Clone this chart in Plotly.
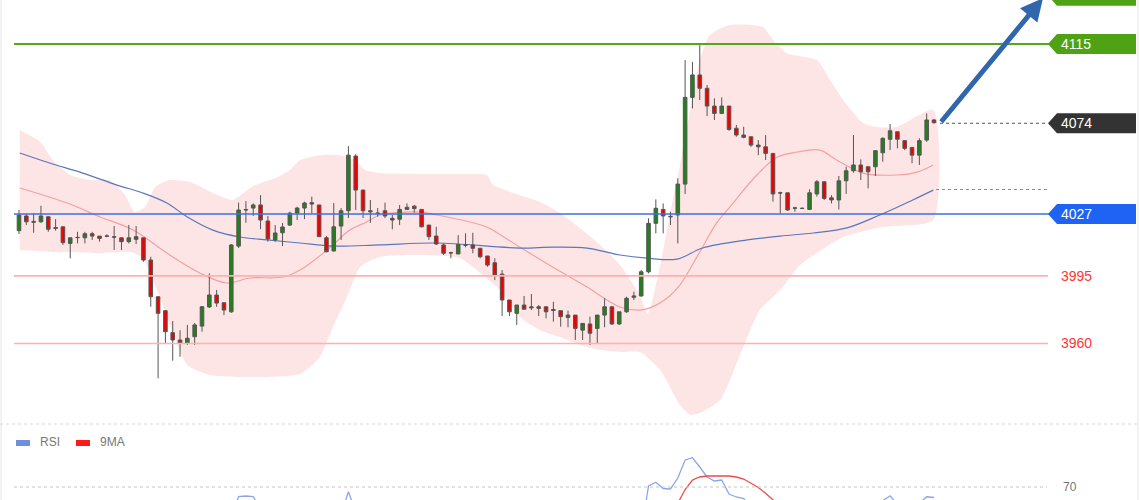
import plotly.graph_objects as go

W, H = 1140, 500

# ---------------- candle data (price) ----------------
opens = [4018.4, 4026.0, 4023.2, 4023.0, 4025.6, 4020.0, 4020.4, 4011.8, 4014.8, 4014.7,
         4016.8, 4015.6, 4015.7, 4015.0, 4014.7, 4012.7, 4015.3, 4014.7, 4003.2, 3984.2,
         3977.0, 3965.6, 3961.8, 3960.1, 3963.5, 3969.0, 3978.9, 3985.1, 3981.1, 3976.4,
         4010.4, 4029.1, 4030.1, 4031.7, 4023.4, 4013.6, 4017.3, 4021.3, 4027.5, 4030.1,
         4032.9, 4031.7, 4014.7, 4007.9, 4020.8, 4028.7, 4057.0, 4039.4, 4028.7, 4027.5,
         4028.7, 4024.8, 4024.3, 4029.4, 4031.1, 4029.4, 4021.3, 4015.6, 4011.0, 4007.0,
         4006.3, 4011.0, 4011.0, 4009.3, 4005.3, 4001.8, 3995.9, 3982.5, 3975.6, 3979.9,
         3978.4, 3979.0, 3979.0, 3977.6, 3977.0, 3973.5, 3974.7, 3966.9, 3970.1, 3967.8,
         3974.7, 3979.0, 3970.1, 3976.4, 3983.9, 3984.6, 3997.1, 4022.2, 4029.4, 4025.8,
         4026.5, 4042.5, 4087.4, 4099.0, 4092.1, 4082.9, 4079.1, 4082.9, 4071.4, 4067.9,
         4067.0, 4062.7, 4061.8, 4058.4, 4038.0, 4038.0, 4030.2, 4030.0, 4029.4, 4037.4,
         4043.7, 4035.4, 4034.3, 4044.2, 4049.4, 4052.4, 4051.5, 4051.5, 4058.7, 4065.7,
         4069.6, 4065.0, 4061.5, 4057.5, 4065.3, 4075.7]
highs = [4029.1, 4027.0, 4027.4, 4031.3, 4026.0, 4024.4, 4020.4, 4014.7, 4017.8, 4017.8,
         4017.8, 4015.6, 4016.5, 4020.8, 4014.7, 4021.3, 4020.8, 4014.7, 4004.9, 3984.2,
         3977.0, 3971.6, 3966.9, 3969.6, 3970.6, 3979.4, 3996.3, 3987.7, 3981.1, 4011.5,
         4032.9, 4033.7, 4032.5, 4036.8, 4026.0, 4021.3, 4022.4, 4028.2, 4030.8, 4033.4,
         4036.0, 4031.7, 4015.6, 4032.7, 4030.1, 4062.2, 4058.0, 4039.6, 4034.3, 4030.1,
         4032.9, 4026.5, 4031.7, 4032.5, 4031.7, 4029.6, 4021.3, 4020.4, 4011.8, 4007.5,
         4016.1, 4017.0, 4017.3, 4009.3, 4005.3, 4004.1, 3998.0, 3982.5, 3979.9, 3984.6,
         3985.6, 3979.9, 3979.0, 3981.6, 3977.0, 3977.0, 3974.7, 3970.4, 3973.9, 3974.7,
         3983.4, 3979.0, 3976.4, 3984.2, 3986.8, 3998.0, 4024.8, 4034.6, 4032.5, 4028.2,
         4045.5, 4106.7, 4105.8, 4114.5, 4093.8, 4086.9, 4087.4, 4082.9, 4073.1, 4072.2,
         4067.0, 4065.3, 4067.9, 4058.4, 4038.6, 4038.0, 4030.8, 4030.4, 4039.8, 4044.6,
         4043.7, 4036.8, 4046.7, 4051.5, 4067.9, 4055.3, 4051.5, 4060.1, 4066.7, 4073.6,
         4069.6, 4065.0, 4061.5, 4066.2, 4079.1, 4076.2]
lows = [4016.7, 4021.3, 4017.3, 4022.4, 4017.8, 4018.4, 4011.0, 4004.1, 4011.8, 4011.8,
        4013.6, 4012.7, 4015.0, 4008.4, 4008.4, 4011.8, 4011.5, 4002.3, 3979.0, 3942.0,
        3960.1, 3951.1, 3953.1, 3959.2, 3959.2, 3966.1, 3978.4, 3979.0, 3974.7, 3975.8,
        4009.4, 4022.5, 4026.0, 4019.2, 4012.7, 4012.7, 4010.4, 4020.8, 4023.9, 4024.4,
        4027.4, 4015.1, 4007.2, 4007.5, 4013.6, 4024.9, 4029.1, 4024.9, 4022.4, 4025.6,
        4024.9, 4019.1, 4021.3, 4029.1, 4027.7, 4020.1, 4013.6, 4011.0, 4005.8, 4004.1,
        4006.3, 4009.8, 4006.7, 4004.1, 3999.7, 3992.8, 3974.2, 3974.2, 3969.6, 3977.7,
        3977.3, 3974.2, 3973.0, 3971.3, 3968.7, 3968.4, 3961.8, 3961.8, 3959.2, 3959.7,
        3968.4, 3969.6, 3969.6, 3975.9, 3982.5, 3984.2, 3996.3, 4017.0, 4017.0, 4021.3,
        4011.8, 4037.4, 4081.7, 4086.0, 4077.7, 4075.7, 4078.8, 4070.1, 4067.0, 4066.2,
        4061.8, 4057.5, 4055.0, 4033.4, 4027.4, 4028.7, 4028.2, 4029.6, 4029.1, 4036.0,
        4034.3, 4032.5, 4029.4, 4037.4, 4048.4, 4044.6, 4040.3, 4046.7, 4054.1, 4060.1,
        4061.0, 4060.1, 4053.3, 4052.4, 4064.4, 4073.8]
closes = [4026.5, 4023.0, 4022.8, 4026.0, 4019.1, 4019.6, 4012.2, 4014.7, 4014.9, 4016.8,
          4015.6, 4014.4, 4015.5, 4015.2, 4012.7, 4014.7, 4013.9, 4003.2, 3984.2, 3975.6,
          3966.1, 3961.8, 3960.1, 3962.7, 3969.6, 3979.0, 3985.1, 3980.9, 3977.3, 4011.0,
          4029.1, 4029.3, 4031.7, 4023.9, 4014.1, 4017.2, 4020.3, 4027.5, 4030.1, 4032.7,
          4032.2, 4015.3, 4007.5, 4020.4, 4028.7, 4057.5, 4039.4, 4028.7, 4028.2, 4027.4,
          4026.0, 4023.9, 4029.4, 4030.5, 4029.8, 4020.4, 4015.3, 4011.5, 4006.7, 4006.9,
          4011.3, 4010.9, 4009.3, 4004.9, 4000.6, 3995.4, 3982.5, 3976.4, 3979.9, 3977.7,
          3978.9, 3978.2, 3976.4, 3977.1, 3973.9, 3974.7, 3967.8, 3970.4, 3965.3, 3974.7,
          3979.0, 3970.1, 3976.4, 3983.4, 3984.6, 3997.1, 4022.2, 4030.0, 4026.0, 4025.6,
          4042.5, 4087.4, 4099.0, 4092.1, 4082.9, 4079.1, 4082.9, 4070.8, 4067.9, 4066.7,
          4062.7, 4061.8, 4058.4, 4037.4, 4037.9, 4029.1, 4030.0, 4029.9, 4038.0, 4043.7,
          4035.1, 4034.3, 4044.2, 4049.4, 4052.4, 4048.9, 4048.9, 4059.8, 4066.2, 4070.1,
          4065.7, 4061.0, 4057.5, 4065.0, 4075.7, 4074.3]
bars = list(range(1, len(opens) + 1))

# ---------------- overlays (bar position, price) ----------------
bb_up_x = [1.1, 3.9, 5.6, 8.0, 10.7, 13.4, 15.5, 16.8, 18.2, 19.6, 21.6, 24.4, 27.5, 30.2,
           33.0, 36.0, 38.0, 39.4, 42.1, 44.9, 46.9, 48.3, 50.3, 55.8, 62.6, 64.9, 65.8,
           69.4, 72.2, 74.9, 77.6, 80.4, 83.1, 85.8, 86.9, 88.6, 89.9, 91.3, 92.7, 94.0,
           95.4, 98.1, 102.6, 104.0, 105.9, 110.0, 111.8, 113.6, 116.3, 118.2, 120.9, 125.9]
bb_up_y = [4070.5, 4064.3, 4055.0, 4047.2, 4044.6, 4044.6, 4036.8, 4028.0, 4030.6, 4041.0,
           4044.6, 4043.6, 4037.9, 4034.3, 4041.5, 4045.6, 4049.8, 4055.0, 4057.5, 4057.5,
           4055.0, 4049.8, 4048.2, 4047.7, 4047.7, 4047.2, 4042.0, 4036.8, 4033.2, 4027.5,
           4019.8, 4011.0, 4000.6, 3985.1, 3975.5, 4000.6, 4026.5, 4052.4, 4080.8, 4106.7,
           4119.7, 4124.8, 4123.8, 4117.1, 4110.3, 4106.7, 4096.4, 4086.0, 4074.1, 4072.0,
           4072.0, 4080.8]
bb_lo_x = [1.1, 6.6, 12.1, 16.2, 17.9, 19.6, 21.6, 24.0, 27.1, 32.6, 39.4, 42.1, 43.9, 45.8,
           47.6, 50.3, 55.8, 61.2, 64.0, 66.7, 69.4, 72.2, 74.9, 77.6, 80.4, 83.1, 85.8,
           88.6, 91.3, 92.7, 94.0, 96.8, 99.5, 102.2, 105.0, 107.7, 110.0, 113.6, 119.0, 125.9]
bb_lo_y = [4008.4, 4007.3, 4006.8, 4007.3, 4004.2, 3990.3, 3969.6, 3948.9, 3943.7, 3942.6,
           3944.2, 3953.0, 3968.5, 3984.0, 3999.6, 4004.8, 4005.8, 4004.2, 3996.5, 3987.7,
           3973.7, 3966.9, 3963.3, 3959.2, 3956.6, 3955.6, 3955.6, 3946.3, 3928.1, 3923.0,
           3924.0, 3930.7, 3954.0, 3977.3, 3987.7, 4000.6, 4006.8, 4015.1, 4020.3, 4023.9]
bb_mid_x = [1.1, 7.6, 12.1, 16.6, 21.2, 25.7, 29.4, 32.6, 37.1, 39.4, 43.1, 46.2, 48.5,
            50.3, 55.8, 58.1, 62.6, 64.9, 69.4, 73.9, 78.6, 83.1, 85.8, 87.2, 89.9, 91.3,
            94.0, 96.2, 98.1, 101.8, 104.6, 107.3, 110.4, 112.7, 116.3, 120.9, 123.7, 125.9]
bb_mid_y = [4040.5, 4032.7, 4025.5, 4018.7, 4006.8, 3996.5, 3991.3, 3993.9, 3994.4, 3998.0,
            4008.4, 4018.7, 4022.9, 4026.5, 4028.0, 4026.5, 4022.9, 4020.3, 4009.9, 3999.6,
            3989.2, 3978.9, 3977.3, 3978.4, 3984.6, 3990.3, 4007.3, 4021.8, 4030.6, 4047.2,
            4056.5, 4059.1, 4060.1, 4055.0, 4048.2, 4047.2, 4048.7, 4052.4]
ma_x = [1.1, 5.2, 9.7, 14.4, 17.9, 21.2, 24.0, 27.5, 31.2, 34.9, 39.4, 43.9, 50.3, 58.1,
        69.4, 73.9, 78.6, 83.1, 86.8, 90.9, 94.4, 100.5, 105.0, 109.5, 114.1, 118.6, 123.1, 125.9]
ma_y = [4058.6, 4053.4, 4048.2, 4042.0, 4037.9, 4032.7, 4025.5, 4018.7, 4015.1, 4013.6,
        4012.0, 4010.4, 4011.0, 4012.0, 4009.4, 4009.9, 4009.4, 4005.8, 4004.2, 4003.7,
        4009.4, 4013.6, 4015.6, 4017.2, 4019.8, 4026.5, 4034.3, 4039.4]

# ---------------- RSI panel ----------------
rsi = [45, 44, 44, 47, 43, 42, 38, 40, 41, 43,
       42, 41, 42, 40, 41, 43, 42, 36, 28, 25,
       23, 22, 21, 26, 32, 38, 43, 41, 39, 58,
       66.2, 66.4, 66.2, 61, 55, 56, 57, 60, 61, 62,
       61, 52, 48, 55, 59, 68.1, 60, 56, 55, 55,
       53, 52, 56, 57, 56, 50, 46, 44, 41, 40,
       44, 44, 43, 40, 37, 34, 28, 26, 30, 29,
       30, 29, 28, 28, 26, 27, 24, 27, 25, 31,
       35, 31, 36, 42, 43, 52, 70.4, 71.9, 69.4, 69.2,
       73.6, 80.8, 81.7, 78, 74, 72.4, 72.8, 67.2, 66, 65.4,
       62, 61, 59, 50, 50, 47, 47.5, 47.5, 52, 55,
       50, 50, 56, 59, 60, 58, 57, 62, 64.5, 66.5,
       63, 61, 58, 63.5, 66.1, 65.8]
rsi_ma9 = [None] * 8 + [
       43, 43, 42, 42, 42, 42, 42, 42, 42, 41, 39, 37,
       35, 33, 31, 30, 29, 29, 29, 30, 31, 34,
       38, 42, 47, 50, 53, 55, 57, 58, 60, 61,
       60, 59, 58, 58, 58, 59, 59, 58, 57, 57,
       57, 56, 56, 56, 55, 54, 53, 51, 50, 48,
       47, 46, 44, 43, 41, 39, 37, 35, 34, 32,
       31, 30, 29, 28, 28, 28, 27, 27, 27, 27,
       28, 28, 29, 31, 33, 36, 41, 46, 57, 61,
       63.5, 69, 72.8, 74, 74.4, 74.5, 74.5, 74.4, 74, 73.2, 71.5, 69.8, 67.5, 64.5, 62,
       59, 57, 55, 53, 52, 51, 51, 52, 53, 54, 55, 55, 56, 57, 58, 59, 60, 60, 61, 62, 62]
rsi_level = 70

# ---------------- levels ----------------
target_top = 4140
resistance = 4115
last_price = 4074
pivot = 4027
support1 = 3995
support2 = 3960
ma_last = 4039.7

# ---------------- pixel helpers (layout only) ----------------
PX0, PXSTEP = 19.0, 7.32          # pixel of bar 1, pixels per bar
def px(xp):                        # pixel -> paper x
    return xp / W
def bar_at(xp):                    # pixel -> bar coordinate
    return 1 + (xp - PX0) / PXSTEP
def py(yp):                        # pixel -> paper y
    return 1 - yp / H

xrange_ = [bar_at(0), bar_at(W)]
PRICE_TOP, PRICE_BOT = 4137.8, 3917.8

FONT = "Liberation Sans, Arial, sans-serif"
PINK = "rgba(252,208,210,0.55)"

fig = go.Figure()

# Bollinger band fill (base subplot, underneath candles)
fig.add_trace(go.Scatter(
    x=bb_up_x + bb_lo_x[::-1], y=bb_up_y + bb_lo_y[::-1],
    fill="toself", fillcolor=PINK, line=dict(width=0, shape="spline", smoothing=0.6),
    mode="lines", hoverinfo="skip", showlegend=False, xaxis="x", yaxis="y"))
fig.add_trace(go.Scatter(x=bb_mid_x, y=bb_mid_y, mode="lines",
                         line=dict(color="#f3a0a0", width=1.2, shape="spline"),
                         showlegend=False, hoverinfo="skip"))
fig.add_trace(go.Scatter(x=ma_x, y=ma_y, mode="lines",
                         line=dict(color="#5a78b8", width=1.2, shape="spline"),
                         showlegend=False, hoverinfo="skip"))

# horizontal levels
def hline(yv, x0p, x1p, color, width, dash="solid"):
    fig.add_shape(type="line", xref="paper", yref="y", x0=px(x0p), x1=px(x1p),
                  y0=yv, y1=yv, line=dict(color=color, width=width, dash=dash), layer="above")

hline(resistance, 14, 1050, "#55a61c", 2)
hline(pivot, 14, 1050, "#3c6fe0", 1.6)
hline(support1, 14, 1048, "#ffb0b0", 1.6)
hline(support2, 14, 1048, "#ffb0b0", 1.6)
hline(last_price, 940, 1048, "#555555", 1, "dot")
hline(ma_last, 936, 1048, "#6f8fd4", 1, "dot")

# candles on an overlaying subplot so they sit above the band fill
fig.add_trace(go.Candlestick(
    x=bars, open=opens, high=highs, low=lows, close=closes,
    increasing=dict(fillcolor="#23801c", line=dict(color="#555555", width=1)),
    decreasing=dict(fillcolor="#f20000", line=dict(color="#555555", width=1)),
    whiskerwidth=0, showlegend=False, hoverinfo="skip", xaxis="x3", yaxis="y3"))

# price tags
def tag(yv, color, text=None):
    fig.add_shape(type="path", xref="paper", yref="y", xsizemode="pixel", ysizemode="pixel",
                  xanchor=px(1048), yanchor=yv,
                  path="M0,0 L9,10 L88,10 L88,-10 L9,-10 Z",
                  fillcolor=color, line=dict(color=color, width=0), layer="above")
    if text:
        fig.add_annotation(xref="paper", yref="y", x=px(1059), y=yv, text=text,
                           showarrow=False, xanchor="left", yanchor="middle",
                           font=dict(family=FONT, size=14, color="white"))

tag(target_top, "#4ea214")
tag(resistance, "#4ea214", str(resistance))
tag(last_price, "#333333", str(last_price))
tag(pivot, "#1f63f5", str(pivot))
for lv in (support1, support2):
    fig.add_annotation(xref="paper", yref="y", x=px(1059), y=lv, text=str(lv),
                       showarrow=False, xanchor="left", yanchor="middle",
                       font=dict(family=FONT, size=14, color="#ff3535"))

# forecast arrow
fig.add_annotation(xref="x", yref="y", axref="x", ayref="y",
                   x=bar_at(1043), y=4138.8, ax=bar_at(940), ay=last_price,
                   text="", showarrow=True, arrowhead=2, arrowsize=0.9,
                   arrowwidth=5, arrowcolor="#2f66ae", standoff=0, startstandoff=0)

# ---------------- RSI panel ----------------
fig.add_trace(go.Scatter(x=bars, y=rsi, mode="lines", line=dict(color="#8aa6ea", width=1.3),
                         xaxis="x2", yaxis="y2", showlegend=False, hoverinfo="skip"))
fig.add_trace(go.Scatter(x=bars, y=rsi_ma9, mode="lines", line=dict(color="#f04a4a", width=1.3),
                         xaxis="x2", yaxis="y2", showlegend=False, hoverinfo="skip"))
fig.add_shape(type="line", xref="paper", yref="y2", x0=px(14), x1=px(1047), y0=rsi_level,
              y1=rsi_level, line=dict(color="#c4c4c4", width=1, dash="dot"))
fig.add_annotation(xref="paper", yref="y2", x=px(1061), y=rsi_level, text=str(rsi_level),
                   showarrow=False, xanchor="left", yanchor="middle",
                   font=dict(family=FONT, size=12, color="#777777"))
# separator
fig.add_shape(type="line", xref="paper", yref="paper", x0=0, x1=1, y0=py(424), y1=py(424),
              line=dict(color="#d6d6d6", width=1, dash="dot"))
# legend of RSI panel
fig.add_shape(type="rect", xref="paper", yref="paper", x0=px(16), x1=px(30), y0=py(446), y1=py(440),
              fillcolor="#6f8ee0", line=dict(width=0))
fig.add_annotation(xref="paper", yref="paper", x=px(38), y=py(442), text="RSI", showarrow=False,
                   xanchor="left", yanchor="middle", font=dict(family=FONT, size=12, color="#777777"))
fig.add_shape(type="rect", xref="paper", yref="paper", x0=px(76), x1=px(90), y0=py(446), y1=py(440),
              fillcolor="#ff1a1a", line=dict(width=0))
fig.add_annotation(xref="paper", yref="paper", x=px(98), y=py(442), text="9MA", showarrow=False,
                   xanchor="left", yanchor="middle", font=dict(family=FONT, size=12, color="#777777"))
# frame edges
for xe in (1, 1138):
    fig.add_shape(type="line", xref="paper", yref="paper", x0=px(xe), x1=px(xe), y0=0, y1=1,
                  line=dict(color="#e6e6e6", width=1))

axis_off = dict(visible=False, showgrid=False, zeroline=False, fixedrange=True)
fig.update_layout(
    width=W, height=H, margin=dict(l=0, r=0, t=0, b=0),
    paper_bgcolor="white", plot_bgcolor="white",
    xaxis=dict(range=xrange_, domain=[0, 1], anchor="y", rangeslider=dict(visible=False), **axis_off),
    yaxis=dict(range=[PRICE_BOT, PRICE_TOP], domain=[py(425), 1], anchor="x", **axis_off),
    xaxis3=dict(range=xrange_, overlaying="x", anchor="y3", rangeslider=dict(visible=False), **axis_off),
    yaxis3=dict(range=[PRICE_BOT, PRICE_TOP], overlaying="y", anchor="x3", **axis_off),
    xaxis2=dict(range=xrange_, domain=[0, 1], anchor="y2", **axis_off),
    yaxis2=dict(range=[64.8, 93.6], domain=[0, py(428)], anchor="x2", **axis_off),
    showlegend=False,
)

fig.write_html("out.html")
